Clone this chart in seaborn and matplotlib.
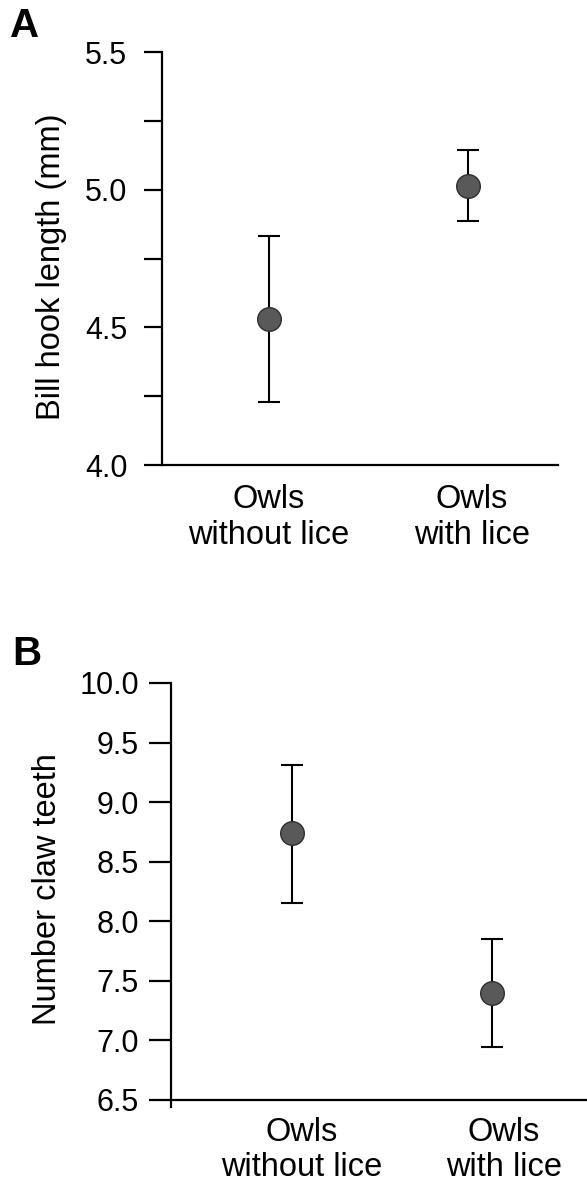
import numpy as np
import pandas as pd
import matplotlib
matplotlib.use("Agg")
import matplotlib.pyplot as plt
import seaborn as sns

# data
groups = ["Owls\nwithout lice", "Owls\nwith lice"]

bill_mean = np.array([4.53, 5.013])
bill_lo = np.array([4.229, 4.886])
bill_hi = np.array([4.832, 5.144])

claw_mean = np.array([8.74, 7.40])
claw_lo = np.array([8.15, 6.945])
claw_hi = np.array([9.31, 7.85])

sns.set_style("ticks")
plt.rcParams["font.family"] = ["Liberation Sans", "DejaVu Sans"]
plt.rcParams["text.color"] = "black"
plt.rcParams["axes.labelcolor"] = "black"
plt.rcParams["xtick.color"] = "black"
plt.rcParams["ytick.color"] = "black"

FS_TICK = 22
FS_LAB = 23.5
W, H = 587, 1181


def panel(ax, means, lo, hi, ylabel):
    df = pd.DataFrame({"group": groups, "value": means})
    ax.errorbar(x=np.arange(len(groups)), y=means, yerr=[means - lo, hi - means],
                fmt="none", ecolor="black", elinewidth=1.5, capsize=8,
                capthick=1.5, zorder=2)
    sns.pointplot(data=df, x="group", y="value", order=groups, errorbar=None,
                  linestyle="none", markers="o", color="#595959",
                  markersize=17, markeredgecolor="#2e2e2e", markeredgewidth=1,
                  ax=ax, zorder=3)
    ax.set_xlabel("")
    ax.set_ylabel(ylabel, fontsize=FS_LAB)
    sns.despine(ax=ax)
    for s in ["left", "bottom"]:
        ax.spines[s].set_linewidth(1.6)
        ax.spines[s].set_color("black")
    ax.tick_params(axis="x", length=0, labelsize=FS_LAB, pad=14)
    ax.tick_params(axis="y", which="both", width=1.6, labelsize=FS_TICK)


fig = plt.figure(figsize=(W / 100, H / 100), dpi=100)

# panel A
axA = fig.add_axes([162 / W, 1 - 465 / H, (558 - 162) / W, (465 - 52) / H])
panel(axA, bill_mean, bill_lo, bill_hi, "Bill hook length (mm)")
axA.set_ylim(4.0, 5.5)
axA.set_yticks([4.0, 4.5, 5.0, 5.5], ["4.0", "4.5", "5.0", "5.5"])
axA.set_yticks([4.25, 4.75, 5.25], minor=True)
axA.tick_params(axis="y", which="both", length=13, pad=12)
axA.set_xlim(-0.536, 1.451)
axA.set_xticks([0, 1.02], groups)
axA.yaxis.set_label_coords(-0.24, 0.479)

# panel B
axB = fig.add_axes([171 / W, 1 - 1107 / H, (587 - 171) / W, (1107 - 683) / H])
panel(axB, claw_mean, claw_lo, claw_hi, "Number claw teeth")
axB.set_ylim(6.44, 10.0)
axB.spines["bottom"].set_position(("data", 6.5))
axB.set_yticks(np.arange(6.5, 10.01, 0.5),
               ["6.5", "7.0", "7.5", "8.0", "8.5", "9.0", "9.5", "10.0"])
axB.tick_params(axis="y", length=16, pad=7)
axB.tick_params(axis="x", pad=12)
axB.set_xlim(-0.605, 1.475)
axB.set_xticks([0.05, 1.06], groups)
axB.yaxis.set_label_coords(-0.26, 0.514)

fig.text(10 / W, 1 - 7 / H, "A", fontsize=29, fontweight="bold", va="top")
fig.text(12 / W, 1 - 635 / H, "B", fontsize=29, fontweight="bold", va="top")

fig.savefig("out.png", dpi=100)
